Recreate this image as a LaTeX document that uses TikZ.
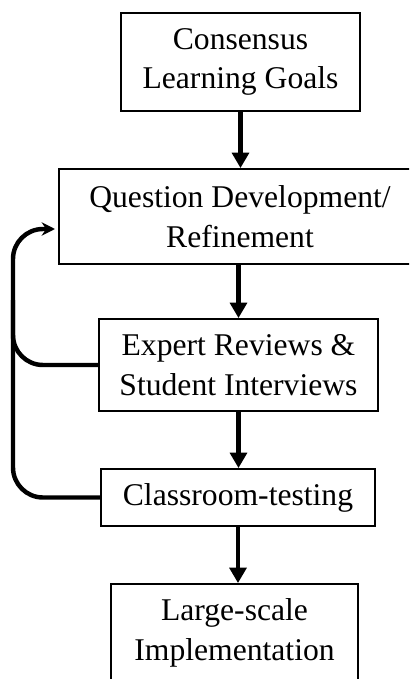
\documentclass[tikz,border=0pt]{standalone}
\usepackage{fontspec}
\setmainfont{Liberation Serif}
\usetikzlibrary{arrows.meta}

\begin{document}
\begin{tikzpicture}[x=0.03cm, y=-0.03cm,
    stage/.style={draw, line width=1.6pt, align=center, inner sep=0pt,
      font=\fontsize{27}{34}\selectfont},
    flow/.style={line width=3.8pt, -{Triangle[width=0.5cm, length=0.46cm]}},
    loop/.style={line width=3.8pt, rounded corners=0.9cm}]
  % picture frame (boxes run past the right and lower edge)
  \useasboundingbox (0, 0) rectangle (409, 679);
  \clip (0, 0) rectangle (409, 679);

  % Stages
  \node[stage, minimum width=7.17cm, minimum height=2.94cm]
    (goals) at (240.5, 62) {Consensus\\Learning Goals};
  \node[stage, minimum width=10.86cm, minimum height=2.85cm]
    (dev) at (240, 216.5) {Question Development/\\Refinement};
  \node[stage, minimum width=8.37cm, minimum height=2.76cm]
    (review) at (238.5, 365) {Expert Reviews \&\\Student Interviews};
  \node[stage, minimum width=8.22cm, minimum height=1.71cm]
    (testing) at (238, 497.5) {Classroom-testing};
  \node[stage, minimum width=7.41cm, minimum height=2.94cm]
    (impl) at (234.5, 633) {Large-scale\\Implementation};

  % Main flow
  \draw[flow] (goals.south) -- (goals.south |- dev.north);
  \draw[flow] (dev.south -| review.north) -- (review.north);
  \draw[flow] (review.south) -- (review.south |- testing.north);
  \draw[flow] (testing.south) -- (testing.south |- impl.north);

  % Feedback loop
  \coordinate (back) at (13, 0);
  \coordinate (tip) at (55, 229);
  \draw[loop] (review.west) -- (back |- review.west) -- (13, 300);
  \draw[loop, -{Stealth[length=0.4cm, width=0.4cm]}]
    (testing.west) -- (back |- testing.west) -- (back |- tip) -- (tip);
\end{tikzpicture}
\end{document}
